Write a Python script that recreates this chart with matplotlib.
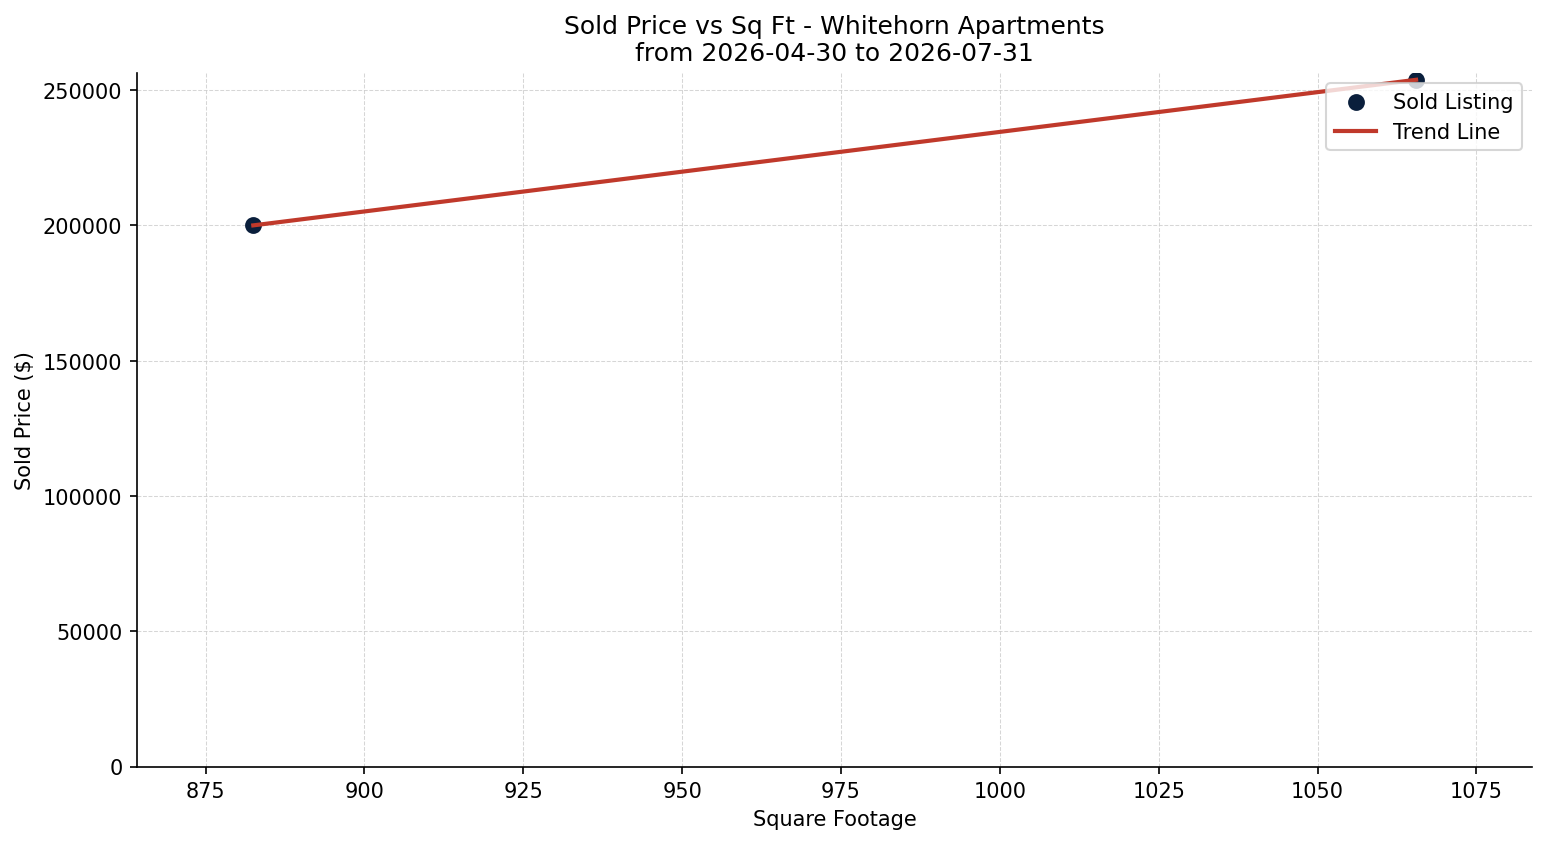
import matplotlib.pyplot as plt
import numpy as np

# Sold listings
sqft = [882.5, 1065.5]
price = [200000, 253800]

title = "Sold Price vs Sq Ft - Whitehorn Apartments\nfrom 2026-04-30 to 2026-07-31"

# Linear trend
slope, intercept = np.polyfit(sqft, price, 1)
xs = np.array([min(sqft), max(sqft)])
trend = slope * xs + intercept

fig, ax = plt.subplots(figsize=(10.313, 5.633), dpi=150)
ax.scatter(sqft, price, color="#0a1f3c", s=50, label="Sold Listing", zorder=3)
ax.plot(xs, trend, color="#c0392b", linewidth=2, label="Trend Line", zorder=4)

span = max(sqft) - min(sqft)
ax.set_xlim(min(sqft) - 0.1 * span, max(sqft) + 0.1 * span)
ax.set_ylim(0, max(price) * 1.01)

ax.set_title(title, fontsize=12)
ax.set_xlabel("Square Footage")
ax.set_ylabel("Sold Price ($)")
ax.grid(True, linestyle="--", linewidth=0.5, color="#cccccc", alpha=0.8)
ax.spines["top"].set_visible(False)
ax.spines["right"].set_visible(False)
ax.legend(loc="upper right")

plt.tight_layout(pad=0.7)
plt.savefig("out.png")
